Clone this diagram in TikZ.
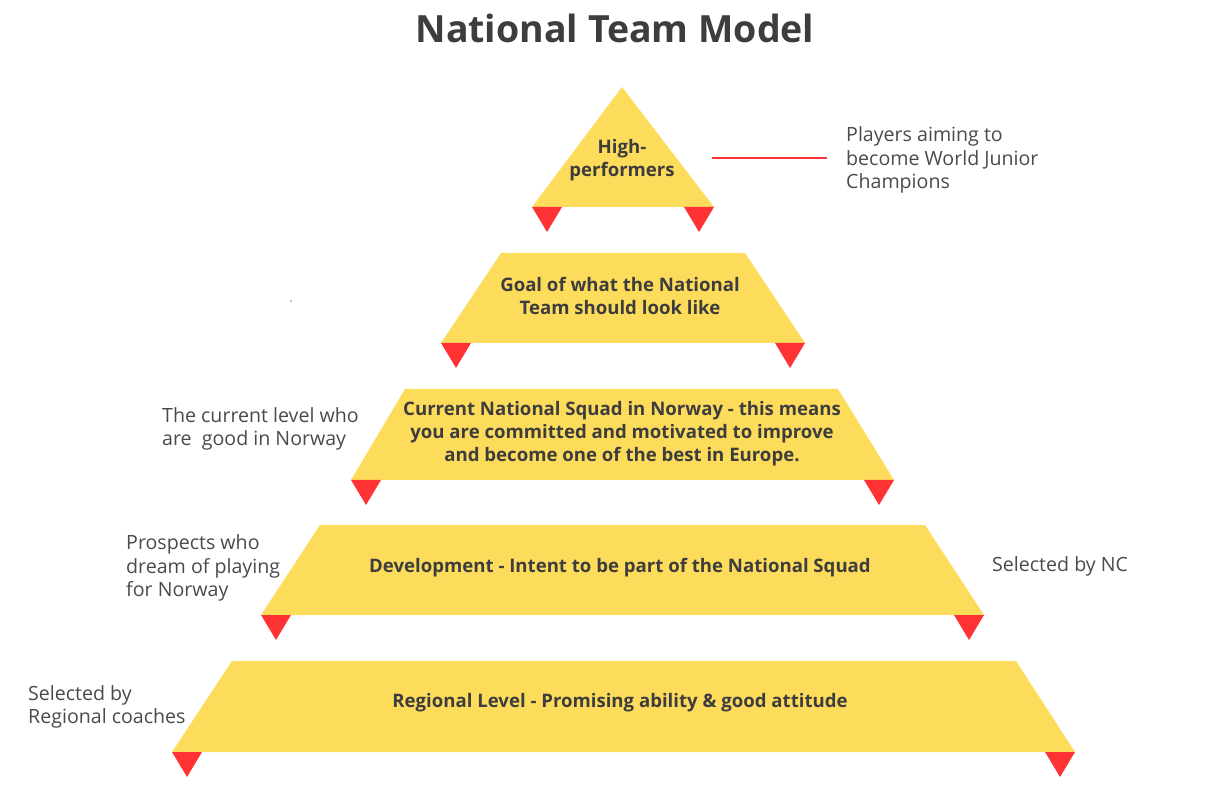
\documentclass[tikz,border=0pt]{standalone}
\usepackage{fontspec}
\setmainfont{Open Sans}
\definecolor{tieryellow}{HTML}{FDDC5C}
\definecolor{tabred}{HTML}{FF3333}
\definecolor{inkgray}{HTML}{3D3D3D}
\definecolor{sidegray}{HTML}{4A4A4A}
\tikzset{
  tier/.style={fill=tieryellow},
  tab/.style={fill=tabred},
  tiertext/.style={align=center, text=inkgray, inner sep=0pt,
    font=\bfseries\fontsize{18.6}{23}\selectfont},
  sidetext/.style={align=left, anchor=west, text=sidegray, inner sep=0pt,
    font=\fontsize{19.6}{23.5}\selectfont},
}
\begin{document}
\begin{tikzpicture}[x=1pt, y=-1pt]
    \useasboundingbox (0, 0) rectangle (1227, 799);
    \node[text=inkgray, font=\bfseries\fontsize{37.5}{40}\selectfont] (title) at (615, 28) {National Team Model};

    % top
    \fill[tier] (622, 87) -- (714, 207) -- (532, 207) -- cycle;
    \fill[tab] (532, 207) -- (562, 207) -- (547, 232) -- cycle;
    \fill[tab] (684, 207) -- (714, 207) -- (699, 232) -- cycle;
    \node[tiertext] (high) at (622, 160) {High-\\performers};

    % second
    \fill[tier] (501, 253) -- (745, 253) -- (805, 343) -- (441, 343) -- cycle;
    \fill[tab] (441, 343) -- (471, 343) -- (456, 368) -- cycle;
    \fill[tab] (775, 343) -- (805, 343) -- (790, 368) -- cycle;
    \node[tiertext] (goal) at (620, 296) {Goal of what the National\\Team should look like};

    % third
    \fill[tier] (405, 389) -- (838, 389) -- (894, 480) -- (351, 480) -- cycle;
    \fill[tab] (351, 480) -- (381, 480) -- (366, 505) -- cycle;
    \fill[tab] (864, 480) -- (894, 480) -- (879, 505) -- cycle;
    \node[tiertext] (squad) at (622, 434) {Current National Squad in Norway - this means\\you are committed and motivated to improve\\and become one of the best in Europe.};

    % fourth
    \fill[tier] (320, 525) -- (925, 525) -- (984, 615) -- (261, 615) -- cycle;
    \fill[tab] (261, 615) -- (291, 615) -- (276, 640) -- cycle;
    \fill[tab] (954, 615) -- (984, 615) -- (969, 640) -- cycle;
    \node[tiertext] (dev) at (620, 568) {Development - Intent to be part of the National Squad};

    % bottom
    \fill[tier] (232, 661) -- (1016, 661) -- (1075, 752) -- (172, 752) -- cycle;
    \fill[tab] (172, 752) -- (202, 752) -- (187, 777) -- cycle;
    \fill[tab] (1045, 752) -- (1075, 752) -- (1060, 777) -- cycle;
    \node[tiertext] (regional) at (620, 703) {Regional Level - Promising ability \& good attitude};

    % side notes
    \node[sidetext] (players) at (846, 160) {Players aiming to\\become World Junior\\Champions};
    \coordinate (hightip) at (712, 158);
    \draw[tabred, line width=1.5pt] (hightip) -- ([xshift=-19pt, yshift=2pt]players.west);
    \node[sidetext] (current) at (162, 429) {The current level who\\are\ \ good in Norway};
    \node[sidetext] (prospects) at (126, 568) {Prospects who\\dream of playing\\for Norway};
    \node[sidetext] (nc) at (992, 566) {Selected by NC};
    \node[sidetext] (coaches) at (28, 707) {Selected by\\Regional coaches};
    \fill[gray] (291, 301) circle[radius=0.8];
\end{tikzpicture}
\end{document}
